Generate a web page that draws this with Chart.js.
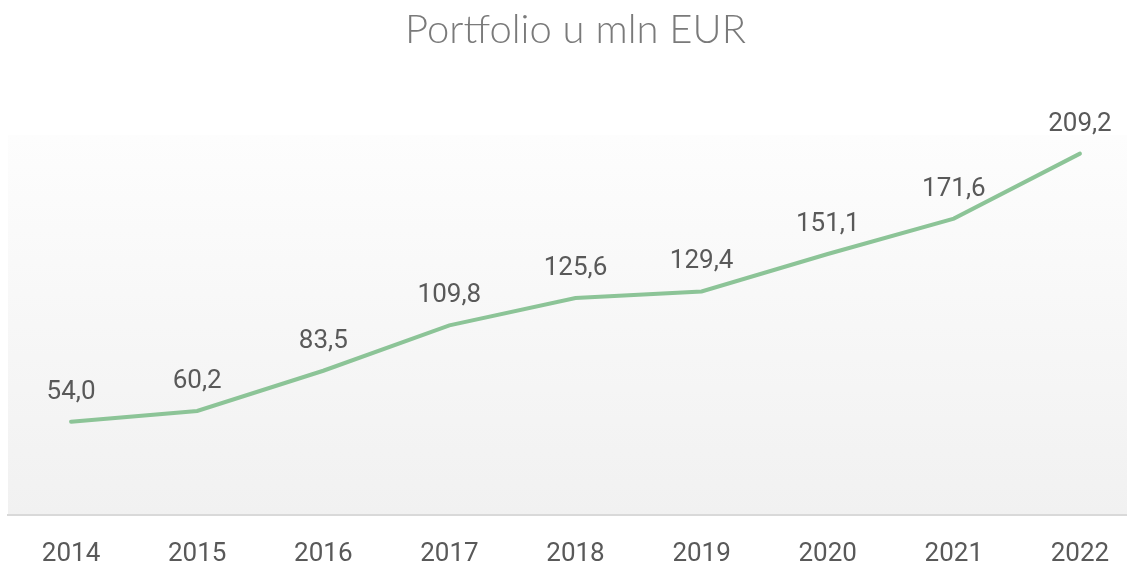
<!DOCTYPE html>
<html>
<head>
<meta charset="utf-8">
<script src="https://cdn.jsdelivr.net/npm/chart.js@4.4.0/dist/chart.umd.min.js"></script>
<style>
  html, body { margin: 0; padding: 0; background: #ffffff; overflow: hidden; }
  #wrap { position: relative; width: 1150px; height: 594px; }
</style>
</head>
<body>
<div id="wrap"><canvas id="c"></canvas></div>
<script>
const titleText = 'Portfolio u mln EUR';
const years = ['2014', '2015', '2016', '2017', '2018', '2019', '2020', '2021', '2022'];
const portfolio = [54.0, 60.2, 83.5, 109.8, 125.6, 129.4, 151.1, 171.6, 209.2];

const fmt = v => v.toFixed(1).replace('.', ',');

const bgPlugin = {
  id: 'bgGrad',
  beforeDraw(chart) {
    const { ctx, chartArea: a } = chart;
    const g = ctx.createLinearGradient(0, a.top, 0, a.bottom);
    g.addColorStop(0, '#fdfdfd');
    g.addColorStop(1, '#f1f1f1');
    ctx.save();
    ctx.fillStyle = g;
    ctx.fillRect(a.left, a.top, a.right - a.left, a.bottom - a.top);
    ctx.restore();
  }
};

const labelPlugin = {
  id: 'valLabels',
  afterDatasetsDraw(chart) {
    const { ctx } = chart;
    const meta = chart.getDatasetMeta(0);
    ctx.save();
    ctx.font = '26px Roboto';
    ctx.fillStyle = '#595959';
    ctx.textAlign = 'center';
    ctx.textBaseline = 'alphabetic';
    meta.data.forEach((pt, i) => {
      ctx.fillText(fmt(chart.data.datasets[0].data[i]), pt.x, pt.y - 23);
    });
    ctx.restore();
  }
};

new Chart(document.getElementById('c'), {
  type: 'line',
  data: {
    labels: years,
    datasets: [{
      data: portfolio,
      borderColor: '#8cc497',
      borderWidth: 4,
      pointRadius: 0,
      tension: 0,
      fill: false,
      borderCapStyle: 'round'
    }]
  },
  options: {
    responsive: true,
    maintainAspectRatio: false,
    animation: false,
    layout: { padding: { left: 8, right: 7, top: 0, bottom: 0 } },
    plugins: {
      legend: { display: false },
      tooltip: { enabled: false },
      title: {
        display: true,
        text: titleText,
        color: '#7a7a7a',
        font: { family: 'Lato', size: 40, weight: '300', lineHeight: 1.2 },
        padding: { top: 6, bottom: 81 }
      }
    },
    scales: {
      x: {
        offset: true,
        grid: { display: false, drawTicks: false },
        border: { display: true, color: '#d9d9d9', width: 2 },
        ticks: {
          color: '#595959',
          font: { family: 'Roboto', size: 26, lineHeight: 1.04 },
          padding: 26,
          maxRotation: 0,
          autoSkip: false
        }
      },
      y: {
        display: false,
        min: 0,
        max: 220
      }
    }
  },
  plugins: [bgPlugin, labelPlugin]
});
</script>
</body>
</html>
